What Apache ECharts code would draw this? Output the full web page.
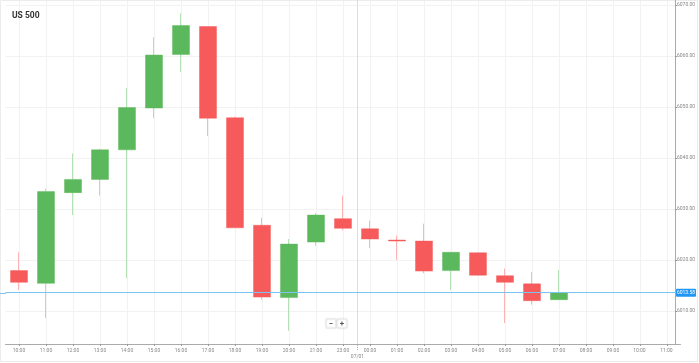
<!DOCTYPE html>
<html>
<head>
<meta charset="utf-8">
<script src="https://cdn.jsdelivr.net/npm/echarts@6/dist/echarts.min.js"></script>
<style>
html,body{margin:0;padding:0;background:#fff;}
#main{width:699px;height:363px;}
</style>
</head>
<body>
<div id="main"></div>
<script>
const categories = ['10:00','11:00','12:00','13:00','14:00','15:00','16:00','17:00','18:00','19:00','20:00','21:00','23:00',
  '00:00','01:00','02:00','03:00','04:00','05:00','06:00','07:00','08:00','09:00','10:00 ','11:00 '];
const opens  = [6017.9, 6015.4, 6033.2, 6035.8, 6041.6, 6049.8, 6060.3, 6065.8, 6047.9, 6026.8, 6012.6, 6023.5, 6028.1, 6026.1, 6023.9, 6023.7, 6017.9, 6021.4, 6016.9, 6015.3, 6012.2];
const closes = [6015.6, 6033.4, 6035.8, 6041.6, 6049.9, 6060.2, 6066.0, 6047.8, 6026.3, 6012.7, 6023.1, 6028.8, 6026.2, 6024.1, 6023.7, 6017.8, 6021.5, 6017.0, 6015.6, 6012.0, 6013.6];
const lows   = [6014.1, 6008.6, 6028.8, 6032.6, 6016.4, 6047.8, 6056.9, 6044.3, 6026.3, 6012.2, 6006.1, 6022.8, 6025.8, 6022.3, 6020.0, 6017.4, 6014.1, 6016.9, 6007.6, 6011.2, 6012.1];
const highs  = [6021.5, 6034.0, 6040.9, 6041.8, 6053.7, 6063.7, 6068.4, 6065.9, 6048.1, 6028.3, 6024.1, 6029.2, 6032.6, 6027.7, 6024.8, 6027.1, 6021.6, 6021.5, 6018.3, 6017.6, 6018.0];
const currentPrice = 6013.58;
const dateLabel = '07/01';
const title = 'US 500';

const candleData = opens.map((o, i) => [o, closes[i], lows[i], highs[i]]);

const chart = echarts.init(document.getElementById('main'), null, {renderer: 'canvas'});
const FONT = 'Roboto';
chart.setOption({
  animation: false,
  backgroundColor: '#fff',
  textStyle: {fontFamily: FONT},
  title: {text: title, left: 7, top: 6, textStyle: {fontSize: 8.5, fontWeight: 'bold', color: '#333', fontFamily: FONT}},
  grid: {left: 5.5, right: 18.5, top: 0, bottom: 19},
  xAxis: {
    type: 'category',
    data: categories,
    boundaryGap: true,
    axisLine: {lineStyle: {color: '#aaa', width: 1}},
    axisTick: {show: true, alignWithLabel: true, length: 2, lineStyle: {color: '#999'}},
    axisLabel: {interval: 0, fontSize: 5, color: '#888', margin: 4, fontFamily: FONT},
    splitLine: {show: true, alignWithLabel: true, lineStyle: {color: '#f2f2f2', width: 1}}
  },
  yAxis: {
    type: 'value',
    position: 'right',
    offset: -5.5,
    min: 6003.5,
    max: 6071,
    scale: true,
    axisLine: {show: true, lineStyle: {color: '#aaa', width: 1}},
    axisTick: {show: true, length: 2, lineStyle: {color: '#999'}},
    axisLabel: {fontSize: 5, color: '#888', margin: 2, showMinLabel: false, showMaxLabel: false,
      formatter: v => v.toFixed(2), fontFamily: FONT},
    splitLine: {show: true, lineStyle: {color: '#f2f2f2', width: 1}}
  },
  series: [{
    type: 'candlestick',
    data: candleData,
    barWidth: 17,
    itemStyle: {
      color: '#5cb85c',
      color0: '#f65a5a',
      borderColor: 'rgba(92,184,92,0.45)',
      borderColor0: 'rgba(246,90,90,0.45)',
      borderWidth: 1
    },
    markLine: {
      silent: true,
      symbol: 'none',
      label: {show: false},
      lineStyle: {color: '#79c4f2', width: 1, type: 'solid'},
      data: [{yAxis: currentPrice}]
    }
  }]
});

function addGraphics() {
  const p23 = chart.convertToPixel({xAxisIndex: 0}, '23:00');
  const p00 = chart.convertToPixel({xAxisIndex: 0}, '00:00');
  const sepX = Math.round((p23 + p00) / 2) + 0.5;
  const yPrice = chart.convertToPixel({yAxisIndex: 0}, currentPrice);
  const yTop = chart.convertToPixel({yAxisIndex: 0}, 6071);
  const yBot = chart.convertToPixel({yAxisIndex: 0}, 6003.5);
  chart.setOption({
    graphic: [
      {type: 'line', shape: {x1: sepX, y1: yTop, x2: sepX, y2: yBot}, style: {stroke: '#ddd', lineWidth: 1}, z: 1},
      {type: 'line', shape: {x1: sepX, y1: yBot + 1, x2: sepX, y2: yBot + 6}, style: {stroke: '#aaa', lineWidth: 1, lineDash: [1, 1]}, z: 5},
      {type: 'text', x: sepX, y: yBot + 10, style: {text: dateLabel, fill: '#888', fontSize: 5, fontFamily: FONT, align: 'center', verticalAlign: 'top'}, z: 5},
      {type: 'line', shape: {x1: 0, y1: Math.round(yPrice) + 0.5, x2: 6, y2: Math.round(yPrice) + 0.5}, style: {stroke: '#79c4f2', lineWidth: 1}, z: 5},
      {type: 'rect', shape: {x: 676, y: yPrice - 4, width: 20, height: 8, r: 1}, style: {fill: '#2196f3'}, z: 10},
      {type: 'text', x: 686, y: yPrice, style: {text: currentPrice.toFixed(2), fill: '#fff', fontSize: 5, fontFamily: FONT, align: 'center', verticalAlign: 'middle'}, z: 11},
      {type: 'rect', shape: {x: 326, y: 319, width: 10, height: 9, r: 1}, style: {fill: '#fff', stroke: '#e6e6e6', lineWidth: 1, shadowBlur: 2, shadowColor: 'rgba(0,0,0,0.1)'}, z: 10},
      {type: 'rect', shape: {x: 337, y: 319, width: 10, height: 9, r: 1}, style: {fill: '#fff', stroke: '#e6e6e6', lineWidth: 1, shadowBlur: 2, shadowColor: 'rgba(0,0,0,0.1)'}, z: 10},
      {type: 'text', x: 331, y: 323.5, style: {text: '−', fill: '#555', fontSize: 8, fontWeight: 'bold', fontFamily: FONT, align: 'center', verticalAlign: 'middle'}, z: 11},
      {type: 'text', x: 342, y: 323.5, style: {text: '+', fill: '#555', fontSize: 8, fontWeight: 'bold', fontFamily: FONT, align: 'center', verticalAlign: 'middle'}, z: 11},
      {type: 'rect', shape: {x: 0.5, y: 0.5, width: 697, height: 361}, style: {fill: 'none', stroke: '#ececec', lineWidth: 1}, z: 0, silent: true}
    ]
  });
}
addGraphics();
</script>
</body>
</html>
